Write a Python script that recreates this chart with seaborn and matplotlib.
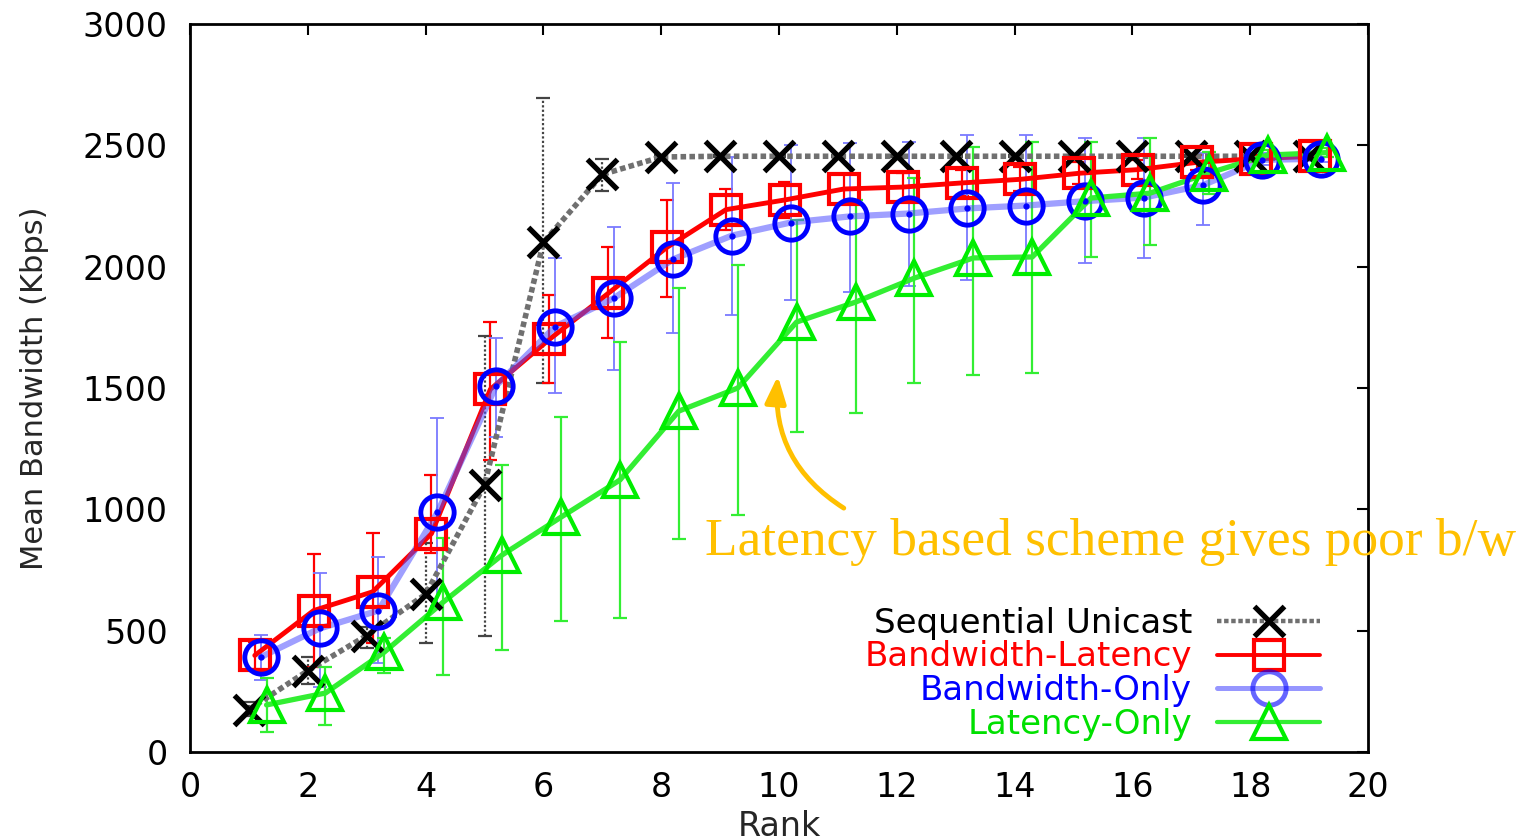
import matplotlib
matplotlib.use("Agg")
import matplotlib.pyplot as plt
from matplotlib.lines import Line2D
import pandas as pd
import seaborn as sns

# ---- data -------------------------------------------------------------
ranks = list(range(1, 20))

seq_mean = [175, 335, 480, 650, 1100, 2100, 2380, 2452, 2455, 2455, 2455,
            2455, 2455, 2455, 2455, 2455, 2455, 2455, 2455]
seq_lo = [150, 280, 430, 450, 480, 1520, 2310, 2445, 2450, 2450, 2450,
          2450, 2450, 2450, 2450, 2450, 2450, 2450, 2450]
seq_hi = [205, 390, 515, 860, 1715, 2695, 2445, 2460, 2460, 2460, 2460,
          2460, 2460, 2460, 2460, 2460, 2460, 2460, 2460]

bwlat_mean = [398, 583, 660, 900, 1495, 1700, 1890, 2080, 2235, 2275, 2320,
              2328, 2345, 2360, 2385, 2400, 2430, 2445, 2455]
bwlat_lo = [340, 350, 450, 820, 1205, 1520, 1706, 1875, 2150, 2200, 2260,
            2270, 2290, 2310, 2340, 2360, 2400, 2430, 2440]
bwlat_hi = [455, 816, 902, 1141, 1772, 1883, 2081, 2275, 2320, 2349, 2380,
            2385, 2400, 2410, 2430, 2440, 2460, 2465, 2470]

bwonly_mean = [391, 509, 583, 987, 1510, 1753, 1871, 2030, 2128, 2182, 2207,
               2219, 2240, 2252, 2270, 2285, 2336, 2440, 2445]
bwonly_lo = [297, 268, 367, 600, 1300, 1479, 1574, 1727, 1801, 1863, 1896,
             1920, 1945, 1965, 2015, 2036, 2172, 2420, 2430]
bwonly_hi = [482, 738, 804, 1376, 1706, 2036, 2164, 2345, 2452, 2500, 2510,
             2514, 2542, 2542, 2530, 2530, 2470, 2470, 2470]

latonly_mean = [194, 243, 412, 618, 812, 968, 1121, 1405, 1500, 1772, 1854,
                1953, 2036, 2040, 2283, 2303, 2386, 2460, 2470]
latonly_lo = [82, 111, 325, 317, 420, 540, 552, 878, 977, 1319, 1397,
              1521, 1553, 1562, 2040, 2089, 2300, 2440, 2450]
latonly_hi = [305, 350, 470, 882, 1183, 1380, 1690, 1912, 2007, 2192, 2275,
              2365, 2493, 2514, 2514, 2530, 2472, 2480, 2490]

series_names = ["Sequential Unicast", "Bandwidth-Latency",
                "Bandwidth-Only", "Latency-Only"]
x_ticks = list(range(0, 21, 2))
y_ticks = list(range(0, 3001, 500))

# ---- styling ----------------------------------------------------------
styles = {
    "Sequential Unicast": dict(shift=0.0, line="#707070", ls=(0, (1.0, 0.6)),
                               lw=4.0, alpha=1.0, marker="x", mcolor="#000000",
                               ms=21, mew=3.8, ecolor="#444444",
                               els=(0, (1, 1)), elw=1.6, text="#000000"),
    "Bandwidth-Latency": dict(shift=0.1, line="#ff0000", ls="-", lw=3.5,
                              alpha=1.0, marker="s", mcolor="#ff0000", ms=22,
                              mew=3.0, ecolor="#ff0000", els="-", elw=1.6,
                              text="#ff0000"),
    "Bandwidth-Only": dict(shift=0.2, line="#5050ff", ls="-", lw=4.5,
                           alpha=0.55, marker="o", mcolor="#0000ff", ms=24,
                           mew=3.5, ecolor="#7a7aff", els="-", elw=1.3,
                           text="#0000ff"),
    "Latency-Only": dict(shift=0.3, line="#33ee33", ls="-", lw=3.8,
                         alpha=1.0, marker="^", mcolor="#00ee00", ms=24,
                         mew=3.0, ecolor="#33ee33", els="-", elw=1.6,
                         text="#00e000"),
}

values = {
    "Sequential Unicast": (seq_mean, seq_lo, seq_hi),
    "Bandwidth-Latency": (bwlat_mean, bwlat_lo, bwlat_hi),
    "Bandwidth-Only": (bwonly_mean, bwonly_lo, bwonly_hi),
    "Latency-Only": (latonly_mean, latonly_lo, latonly_hi),
}

sns.set_theme(style="white")
plt.rcParams["font.family"] = ["DejaVu Sans"]

W, H = 1522, 840
fig = plt.figure(figsize=(W / 100, H / 100), dpi=100)
ax = fig.add_axes([190 / W, 1 - 752 / H, (1368 - 190) / W, (752 - 24) / H])

handles = []
for name in series_names:
    st = styles[name]
    mean, lo, hi = values[name]
    df = pd.DataFrame({"rank": [r + st["shift"] for r in ranks],
                       "bw": mean, "lo": lo, "hi": hi})
    # asymmetric error bars
    eb = ax.errorbar(df["rank"], df["bw"],
                     yerr=[df["bw"] - df["lo"], df["hi"] - df["bw"]],
                     fmt="none", ecolor=st["ecolor"], elinewidth=st["elw"],
                     capsize=5, capthick=st["elw"], zorder=2)
    for coll in eb[2]:
        coll.set_linestyle(st["els"])
    # connecting line
    sns.lineplot(data=df, x="rank", y="bw", ax=ax, color=st["line"],
                 linewidth=st["lw"], linestyle=st["ls"], alpha=st["alpha"],
                 estimator=None, sort=False, zorder=3)
    # open markers
    sns.lineplot(data=df, x="rank", y="bw", ax=ax, linestyle="none",
                 marker=st["marker"], markersize=st["ms"],
                 markerfacecolor="none", markeredgecolor=st["mcolor"],
                 markeredgewidth=st["mew"], estimator=None, sort=False,
                 zorder=4)
    if name == "Bandwidth-Only":
        ax.plot(df["rank"], df["bw"], linestyle="none", marker="o",
                markersize=3.5, color=st["mcolor"], zorder=4)
    handles.append(Line2D([], [], color=st["line"], linestyle=st["ls"],
                          linewidth=st["lw"] * 0.8,
                          alpha=1.0 if st["alpha"] == 1 else 0.6,
                          marker=st["marker"], markersize=st["ms"],
                          markerfacecolor="none", markeredgecolor=st["mcolor"],
                          markeredgewidth=st["mew"]))

ax.set_xlim(0, 20)
ax.set_ylim(0, 3000)
ax.set_xticks(x_ticks)
ax.set_yticks(y_ticks)
ax.set_xlabel("Rank", fontsize=24, labelpad=4)
ax.set_ylabel("Mean Bandwidth (Kbps)", fontsize=22, labelpad=24)
ax.tick_params(axis="both", direction="in", length=8, width=1.5,
               labelsize=24, top=True, right=True, colors="#000000")
ax.tick_params(axis="x", pad=14)
ax.tick_params(axis="y", pad=16)
for sp in ax.spines.values():
    sp.set_visible(True)
    sp.set_color("#000000")
    sp.set_linewidth(2.0)
ax.grid(False)

leg = ax.legend(handles, series_names, loc="lower right",
                bbox_to_anchor=(0.982, -0.022), markerfirst=False,
                frameon=False, fontsize=24.5, handlelength=3.0,
                handletextpad=0.75, labelspacing=0.02, borderpad=0.3)
for txt, name in zip(leg.get_texts(), series_names):
    txt.set_color(styles[name]["text"])

# annotation pointing at the latency-only curve
gold = "#FFC000"
ax.annotate("", xy=(9.98, 1550), xytext=(11.1, 1005),
            arrowprops=dict(arrowstyle="-|>,head_length=0.9,head_width=0.35",
                            color=gold, lw=3.5,
                            connectionstyle="arc3,rad=-0.3",
                            mutation_scale=18, shrinkA=0, shrinkB=0))
fig.text(705 / W, 1 - 555 / H, "Latency based scheme gives poor b/w",
         fontsize=38.4, color=gold, family=["Liberation Serif"],
         ha="left", va="baseline")

fig.savefig("out.png", dpi=100, facecolor="white")
